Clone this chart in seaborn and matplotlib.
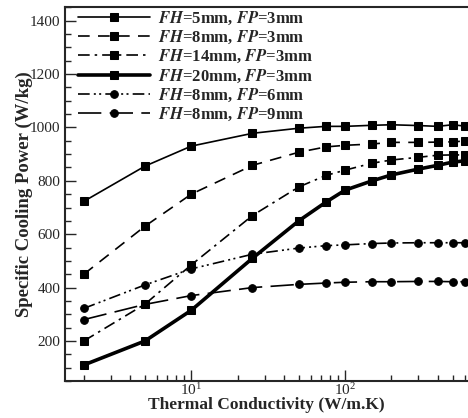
import pandas as pd
import matplotlib
matplotlib.use('Agg')
import matplotlib.pyplot as plt
import seaborn as sns
from matplotlib.ticker import MultipleLocator, LogLocator, NullFormatter

# 绘图风格
sns.set_style("ticks")
plt.rcParams['font.family'] = ['Liberation Serif', 'DejaVu Serif']
plt.rcParams['mathtext.fontset'] = 'stix'

# 数据
conductivity = [2, 5, 10, 25, 50, 75, 100, 150, 200, 300, 400, 500, 600]
labels = [
    r'$\bfit{FH}$=5mm, $\bfit{FP}$=3mm',
    r'$\bfit{FH}$=8mm, $\bfit{FP}$=3mm',
    r'$\bfit{FH}$=14mm, $\bfit{FP}$=3mm',
    r'$\bfit{FH}$=20mm, $\bfit{FP}$=3mm',
    r'$\bfit{FH}$=8mm, $\bfit{FP}$=6mm',
    r'$\bfit{FH}$=8mm, $\bfit{FP}$=9mm',
]
fh5_fp3 = [723, 855, 930, 978, 997, 1004, 1004, 1008, 1010, 1007, 1004, 1010, 1005]
fh8_fp3 = [450, 630, 750, 858, 907, 927, 933, 938, 944, 944, 945, 946, 949]
fh14_fp3 = [200, 338, 485, 670, 777, 820, 840, 866, 878, 888, 896, 897, 897]
fh20_fp3 = [110, 200, 315, 510, 650, 720, 765, 800, 822, 844, 858, 870, 875]
fh8_fp6 = [322, 410, 470, 525, 548, 557, 560, 565, 567, 568, 568, 568, 568]
fh8_fp9 = [280, 337, 370, 400, 412, 417, 420, 422, 422, 423, 423, 422, 422]

series = [fh5_fp3, fh8_fp3, fh14_fp3, fh20_fp3, fh8_fp6, fh8_fp9]
dash_list = ['-', (0, (7, 5)), (0, (7, 3, 1.5, 3)), '-',
             (0, (7, 2.5, 1.2, 2, 1.2, 2.5)), (0, (14, 5))]
marker_list = ['s', 's', 's', 's', 'o', 'o']
width_list = [1.2, 1.2, 1.2, 2.6, 1.2, 1.2]

fig = plt.figure(figsize=(4.68, 4.18), dpi=100)
ax = fig.add_axes([0.138, 0.0885, 0.862, 0.894])

for vals, lab, ls, mk, lw in zip(series, labels, dash_list, marker_list, width_list):
    df = pd.DataFrame({'k': conductivity, 'p': vals})
    sns.lineplot(data=df, x='k', y='p', ax=ax, color='black', linestyle=ls,
                 linewidth=lw, marker=mk, markersize=6.2 if mk == 's' else 5.5,
                 markeredgecolor='black', markerfacecolor='black',
                 label=lab)

ax.set_xscale('log')
ax.set_xlim(1.5, 630)
ax.set_ylim(50, 1450)
ax.yaxis.set_major_locator(MultipleLocator(200))
ax.yaxis.set_minor_locator(MultipleLocator(50))
ax.xaxis.set_minor_locator(LogLocator(base=10, subs=range(2, 10)))
ax.xaxis.set_minor_formatter(NullFormatter())
ax.tick_params(which='both', direction='in', labelsize=11, width=1)
ax.tick_params(which='major', length=8)
ax.tick_params(which='minor', length=4.5)
ax.tick_params(axis='x', pad=1)
ax.tick_params(axis='y', pad=3)

for s in ['left', 'bottom', 'top']:
    ax.spines[s].set_linewidth(1.5)
ax.spines['right'].set_visible(False)

ax.set_xlabel('Thermal Conductivity (W/m.K)', fontsize=12.5, fontweight='bold', labelpad=-1)
ax.set_ylabel('Specific Cooling Power (W/kg)', fontsize=13.5, fontweight='bold', labelpad=-2)

leg = ax.legend(loc='upper left', bbox_to_anchor=(0.033, 0.994), frameon=False,
                fontsize=12, handlelength=4.3, numpoints=1, labelspacing=0.12,
                borderaxespad=0, borderpad=0, handletextpad=0.5)
for t in leg.get_texts():
    t.set_fontweight('bold')

fig.savefig('out.png', dpi=100)
